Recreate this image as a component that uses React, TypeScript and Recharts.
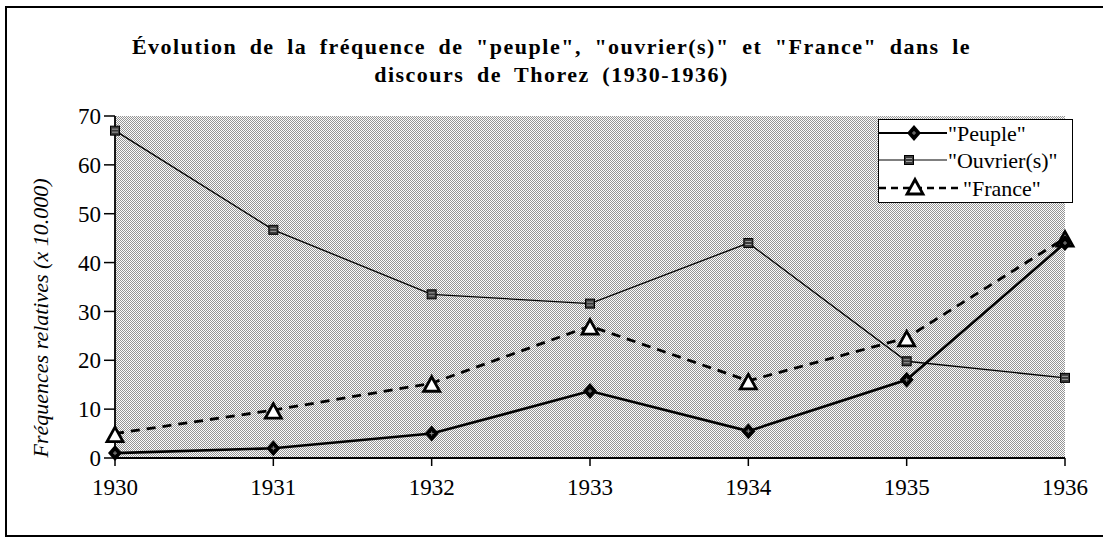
import React from 'react';
import { LineChart, Line, XAxis, YAxis, CartesianGrid, Legend, Label } from 'recharts';

const years = ['1930', '1931', '1932', '1933', '1934', '1935', '1936'];
const peuple = [1, 2, 5, 13.7, 5.5, 16, 44];
const ouvriers = [67, 46.7, 33.5, 31.6, 44, 19.8, 16.4];
const france = [5, 9.8, 15.3, 27, 15.8, 24.6, 45];
const yTicks = [0, 10, 20, 30, 40, 50, 60, 70];

const titleLine1 = 'Évolution de la fréquence de "peuple", "ouvrier(s)" et "France" dans le';
const titleLine2 = 'discours de Thorez (1930-1936)';
const yLabel = 'Fréquences relatives (x 10.000)';
const seriesNames = ['"Peuple"', '"Ouvrier(s)"', '"France"'];

const data = years.map((y, i) => ({
  year: y,
  peuple: peuple[i],
  ouvriers: ouvriers[i],
  france: france[i],
}));

const FONT = '"Liberation Serif", "Times New Roman", serif';

const diamondShape = (cx: number, cy: number, key?: string) => (
  <g key={key}>
    <polygon points={`${cx},${cy - 8} ${cx + 7},${cy} ${cx},${cy + 8} ${cx - 7},${cy}`} fill="#000" />
    <line x1={cx - 2} y1={cy} x2={cx + 2} y2={cy} stroke="#888" strokeWidth={1} />
    <line x1={cx} y1={cy - 2} x2={cx} y2={cy + 2} stroke="#888" strokeWidth={1} />
  </g>
);

const squareShape = (cx: number, cy: number, key?: string) => (
  <g key={key}>
    <rect x={cx - 4.5} y={cy - 4.5} width={9} height={9} fill="#3a3a3a" stroke="#000" strokeWidth={1} />
    <line x1={cx - 3} y1={cy - 1.5} x2={cx + 3} y2={cy - 1.5} stroke="#bbb" strokeWidth={0.8} />
    <line x1={cx - 3} y1={cy + 1.5} x2={cx + 3} y2={cy + 1.5} stroke="#bbb" strokeWidth={0.8} />
  </g>
);

const triangleShape = (cx: number, cy: number, key?: string) => (
  <polygon
    key={key}
    points={`${cx},${cy - 6.5} ${cx + 8},${cy + 8} ${cx - 8},${cy + 8}`}
    fill="#fff"
    stroke="#000"
    strokeWidth={2.8}
    strokeLinejoin="miter"
  />
);

const DiamondDot = (p: any) => (p.cx == null ? <g key={`pd${p.index}`} /> : diamondShape(p.cx, p.cy, `pd${p.index}`));
const SquareDot = (p: any) => (p.cx == null ? <g key={`sd${p.index}`} /> : squareShape(p.cx, p.cy, `sd${p.index}`));
const TriangleDot = (p: any) => (p.cx == null ? <g key={`td${p.index}`} /> : triangleShape(p.cx, p.cy, `td${p.index}`));

const LegendBox = () => (
  <div
    style={{
      width: 195,
      height: 84,
      border: '1.5px solid #000',
      background: '#fff',
      boxSizing: 'border-box',
      fontFamily: FONT,
      color: '#000',
    }}
  >
    <svg width={195} height={82} style={{ display: 'block' }}>
      <line x1={0} y1={13} x2={68} y2={13} stroke="#000" strokeWidth={2} />
      {diamondShape(35, 13)}
      <text x={69} y={13} dominantBaseline="central" fontFamily={FONT} fontSize={22}>{seriesNames[0]}</text>
      <line x1={0} y1={40} x2={68} y2={40} stroke="#000" strokeWidth={1.2} />
      {squareShape(30, 40)}
      <text x={69} y={40} dominantBaseline="central" fontFamily={FONT} fontSize={22}>{seriesNames[1]}</text>
      <line x1={0} y1={68} x2={80} y2={68} stroke="#000" strokeWidth={2.6} strokeDasharray="7 5" />
      {triangleShape(36, 66)}
      <text x={84} y={68} dominantBaseline="central" fontFamily={FONT} fontSize={22}>{seriesNames[2]}</text>
    </svg>
  </div>
);

export default function App() {
  return (
    <div style={{ position: 'absolute', left: 0, top: 0, width: 1103, height: 542, background: '#fff', overflow: 'hidden' }}>
      <div
        style={{
          position: 'absolute',
          left: 5,
          top: 6,
          width: 1120,
          height: 531,
          border: '2px solid #000',
          boxSizing: 'border-box',
        }}
      />
      <div
        style={{
          position: 'absolute',
          left: 0,
          top: 33,
          width: 1103,
          textAlign: 'center',
          fontFamily: FONT,
          fontWeight: 'bold',
          fontSize: 22,
          lineHeight: '28px',
          letterSpacing: 1.5,
          wordSpacing: 5.5,
          color: '#000',
        }}
      >
        <div>{titleLine1}</div>
        <div>{titleLine2}</div>
      </div>
      <LineChart
        width={1103}
        height={542}
        data={data}
        margin={{ top: 116, right: 38, bottom: 44, left: 20 }}
        style={{ position: 'absolute', left: 0, top: 0 }}
      >
        <defs>
          <pattern id="halftone" width={2} height={2} patternUnits="userSpaceOnUse">
            <rect x={0} y={0} width={2} height={2} fill="#fcfcfc" />
            <rect x={0} y={0} width={1} height={1} fill="#949494" />
            <rect x={1} y={1} width={1} height={1} fill="#949494" />
          </pattern>
        </defs>
        <CartesianGrid horizontal={false} vertical={false} fill="url(#halftone)" stroke="none" />
        <XAxis
          dataKey="year"
          height={40}
          padding={{ left: 0, right: 0 }}
          axisLine={{ stroke: '#000', strokeWidth: 1.8 }}
          tickLine={{ stroke: '#000', strokeWidth: 1.5 }}
          tickSize={8}
          tickMargin={13}
          tick={{ fill: '#000', fontFamily: FONT, fontSize: 23 }}
          interval={0}
        />
        <YAxis
          width={95}
          domain={[0, 70]}
          ticks={yTicks}
          interval={0}
          axisLine={{ stroke: '#000', strokeWidth: 1.8 }}
          tickLine={{ stroke: '#000', strokeWidth: 1.5 }}
          tickSize={11}
          tickMargin={3}
          tick={{ fill: '#000', fontFamily: FONT, fontSize: 23 }}
        >
          <Label
            content={() => (
              <text
                x={40}
                y={318}
                transform="rotate(-90 40 318)"
                textAnchor="middle"
                dominantBaseline="central"
                fontFamily={FONT}
                fontStyle="italic"
                fontSize={22}
                fill="#000"
              >
                {yLabel}
              </text>
            )}
          />
        </YAxis>
        <Legend
          layout="horizontal"
          verticalAlign="middle"
          align="center"
          content={() => <LegendBox />}
          wrapperStyle={{ position: 'absolute', left: 878, top: 119, width: 195, height: 84 }}
        />
        <Line
          type="linear"
          dataKey="ouvriers"
          name={seriesNames[1]}
          stroke="#000"
          strokeWidth={1.3}
          dot={SquareDot}
          activeDot={false}
          isAnimationActive={false}
        />
        <Line
          type="linear"
          dataKey="france"
          name={seriesNames[2]}
          stroke="#000"
          strokeWidth={2.8}
          strokeDasharray="9 7"
          dot={TriangleDot}
          activeDot={false}
          isAnimationActive={false}
        />
        <Line
          type="linear"
          dataKey="peuple"
          name={seriesNames[0]}
          stroke="#000"
          strokeWidth={2.6}
          dot={DiamondDot}
          activeDot={false}
          isAnimationActive={false}
        />
      </LineChart>
    </div>
  );
}
